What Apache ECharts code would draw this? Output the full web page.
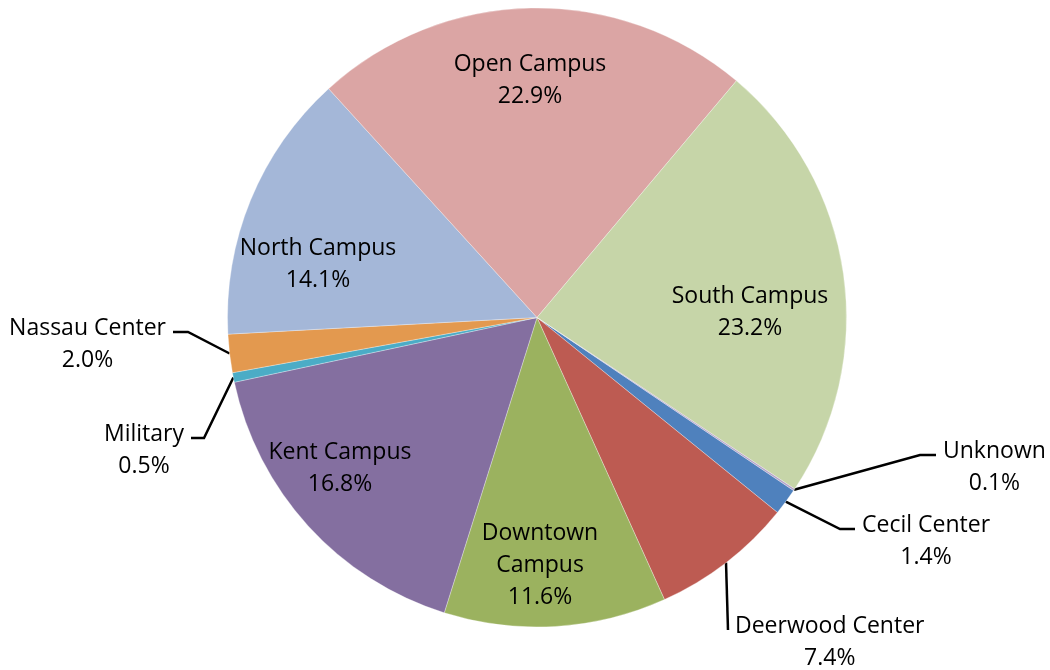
<!DOCTYPE html>
<html>
<head>
<meta charset="utf-8">
<script src="https://cdn.jsdelivr.net/npm/echarts@6/dist/echarts.min.js"></script>
<style>
  html, body { margin: 0; background: #fff; }
  #main { width: 1050px; height: 670px; }
</style>
</head>
<body>
<div id="main"></div>
<script>
// campus share of enrollment, clockwise (alphabetical)
const campuses = ['Cecil Center', 'Deerwood Center', 'Downtown Campus', 'Kent Campus', 'Military',
                  'Nassau Center', 'North Campus', 'Open Campus', 'South Campus', 'Unknown'];
const shares = [1.4, 7.4, 11.6, 16.8, 0.5, 2.0, 14.1, 22.9, 23.2, 0.1];
const sliceColors = ['#4F81BD', '#BD5B52', '#9BB25F', '#846FA0', '#4BACC6',
                     '#E3994F', '#A4B7D8', '#DBA5A4', '#C6D5A8', '#B3A2C7'];
const outsideLabels = ['Cecil Center', 'Deerwood Center', 'Military', 'Nassau Center', 'Unknown'];

const CX = 537, CY = 317.5, R = 309.5;
const START = 124; // degrees clockwise from 12 o'clock, as in the workbook

// where Excel put each data label (block anchor), by name
const labelSpot = {
    'Open Campus':     { x: 530, y: 80,  align: 'center' },
    'North Campus':    { x: 318, y: 264, align: 'center' },
    'South Campus':    { x: 750, y: 312, align: 'center' },
    'Kent Campus':     { x: 340, y: 468, align: 'center' },
    'Downtown Campus': { x: 540, y: 565, align: 'center' },
    'Nassau Center':   { x: 166, y: 344, align: 'right', tail: 15 },
    'Military':        { x: 184, y: 450, align: 'right', tail: 13 },
    'Unknown':         { x: 943, y: 467, align: 'left',  tail: 16 },
    'Cecil Center':    { x: 862, y: 541, align: 'left',  tail: 15 },
    'Deerwood Center': { x: 735, y: 642, align: 'left',  tail: 0 }
};

// mid angle of each slice, used to hook the leader line on the rim
const total = shares.reduce(function (a, b) { return a + b; }, 0);
const midAngle = [];
let acc = 0;
shares.forEach(function (v) {
    midAngle.push(START + (acc + v / 2) / total * 360);
    acc += v;
});

const myChart = echarts.init(document.getElementById('main'), null, { renderer: 'canvas' });

const pieData = campuses.map(function (name, i) {
    const outer = outsideLabels.indexOf(name) >= 0;
    return {
        name: name,
        value: shares[i],
        itemStyle: { color: sliceColors[i] },
        label: { position: outer ? 'outside' : 'inside' },
        labelLine: { show: outer }
    };
});

const option = {
    animation: false,
    backgroundColor: '#ffffff',
    series: [
        {
            type: 'pie',
            center: [CX, CY],
            radius: [0, R],
            startAngle: 90 - START,
            clockwise: true,
            avoidLabelOverlap: false,
            itemStyle: {
                borderColor: 'rgba(255,255,255,0.5)',
                borderWidth: 0.6
            },
            label: {
                show: true,
                color: '#000000',
                fontFamily: 'Open Sans',
                fontSize: 23,
                lineHeight: 32,
                formatter: function (p) {
                    let nm = p.name === 'Downtown Campus' ? 'Downtown\nCampus' : p.name;
                    let lines = nm.split('\n').concat([p.value.toFixed(1) + '%']);
                    return lines.map(function (s) { return '{t|' + s + '}'; }).join('\n');
                },
                rich: {
                    t: { align: 'center', fontFamily: 'Open Sans', fontSize: 23, lineHeight: 32, color: '#000' }
                }
            },
            labelLine: {
                length: 10,
                length2: 15,
                lineStyle: { color: '#000000', width: 2.5 }
            },
            labelLayout: function (params) {
                const i = params.dataIndex;
                const spot = labelSpot[campuses[i]];
                const res = { x: spot.x, y: spot.y, align: spot.align, verticalAlign: 'middle' };
                if (spot.tail != null) {
                    const a = midAngle[i] * Math.PI / 180;
                    const rim = [CX + R * Math.sin(a), CY - R * Math.cos(a)];
                    const dir = spot.align === 'right' ? 1 : -1;
                    const end = [spot.x + dir * 7, spot.y - 12];
                    const turn = [end[0] + dir * spot.tail, end[1]];
                    res.labelLinePoints = [rim, turn, end];
                }
                return res;
            },
            data: pieData
        }
    ]
};

myChart.setOption(option);
</script>
</body>
</html>
